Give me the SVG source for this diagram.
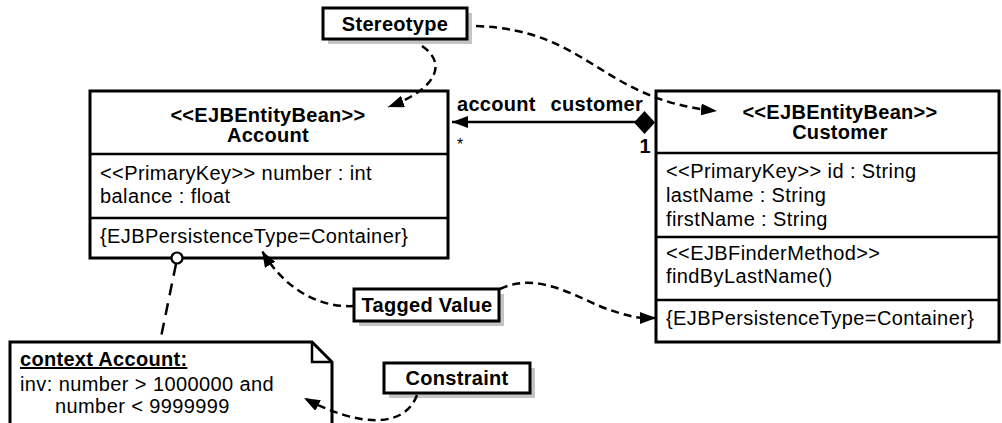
<svg xmlns="http://www.w3.org/2000/svg" width="1002" height="423" viewBox="0 0 1002 423">
  <style>
    text { font-family: "Liberation Sans", Arial, Helvetica, sans-serif; font-size: 20px; fill: #000; letter-spacing: 0.4px; }
    .b { font-weight: bold; letter-spacing: 0.3px; }
    .box { fill: #fff; stroke: #000; stroke-width: 3; }
    .div { stroke: #000; stroke-width: 2.5; fill: none; }
    .shadow { fill: #c4c4c4; }
    .dash { fill: none; stroke: #000; stroke-width: 2.5; stroke-dasharray: 8 5; }
    .solid { fill: none; stroke: #000; stroke-width: 2.5; }
  </style>
  <defs>
    <marker id="ah" viewBox="0 0 16 12" refX="16" refY="6" markerWidth="16" markerHeight="12" markerUnits="userSpaceOnUse" orient="auto">
      <path d="M0,0 L16,6 L0,12 z" fill="#000"/>
    </marker>
  </defs>

  <!-- Account class -->
  <g id="account">
    <rect class="box" x="90" y="91" width="358" height="167"/>
    <line class="div" x1="90" y1="154" x2="448" y2="154"/>
    <line class="div" x1="90" y1="218" x2="448" y2="218"/>
    <text class="b" x="268" y="122" text-anchor="middle">&lt;&lt;EJBEntityBean&gt;&gt;</text>
    <text class="b" x="268" y="142" text-anchor="middle">Account</text>
    <text x="100" y="180">&lt;&lt;PrimaryKey&gt;&gt; number : int</text>
    <text x="100" y="203">balance : float</text>
    <text x="100" y="243">{EJBPersistenceType=Container}</text>
  </g>

  <!-- Customer class -->
  <g id="customer">
    <rect class="box" x="656" y="91" width="343" height="251"/>
    <line class="div" x1="656" y1="153" x2="999" y2="153"/>
    <line class="div" x1="656" y1="237" x2="999" y2="237"/>
    <line class="div" x1="656" y1="300" x2="999" y2="300"/>
    <text class="b" x="840" y="119" text-anchor="middle">&lt;&lt;EJBEntityBean&gt;&gt;</text>
    <text class="b" x="840" y="139" text-anchor="middle">Customer</text>
    <text x="666" y="178">&lt;&lt;PrimaryKey&gt;&gt; id : String</text>
    <text x="666" y="202">lastName : String</text>
    <text x="666" y="226">firstName : String</text>
    <text x="666" y="260">&lt;&lt;EJBFinderMethod&gt;&gt;</text>
    <text x="666" y="283">findByLastName()</text>
    <text x="666" y="325">{EJBPersistenceType=Container}</text>
  </g>

  <!-- OCL constraint note -->
  <g id="note">
    <path class="box" d="M10,342 L312,342 L332,362 L332,430 L10,430 Z"/>
    <path class="div" d="M312,342 L312,362 L332,362"/>
    <text class="b" x="20" y="366" text-decoration="underline">context Account:</text>
    <text x="20" y="391">inv: number &gt; 1000000 and</text>
    <text x="55" y="413">number &lt; 9999999</text>
  </g>

  <!-- Callout labels -->
  <g id="stereotype">
    <rect class="shadow" x="328" y="13" width="144" height="31"/>
    <rect class="box" x="323" y="8" width="144" height="31"/>
    <text class="b" x="395" y="31" text-anchor="middle">Stereotype</text>
  </g>
  <g id="tagged-value">
    <rect class="shadow" x="359" y="294" width="145" height="32"/>
    <rect class="box" x="354" y="289" width="145" height="32"/>
    <text class="b" x="427" y="312" text-anchor="middle">Tagged Value</text>
  </g>
  <g id="constraint">
    <rect class="shadow" x="389" y="368" width="146" height="30"/>
    <rect class="box" x="384" y="363" width="146" height="30"/>
    <text class="b" x="457" y="385" text-anchor="middle">Constraint</text>
  </g>

  <!-- Connectors -->
  <g id="connectors">
    <!-- composition Customer -> Account -->
    <line class="solid" x1="636" y1="122" x2="452" y2="122" marker-end="url(#ah)"/>
    <path d="M655,122.5 L644.5,111 L634,122.5 L644.5,134 Z" fill="#000"/>
    <text class="b" x="457" y="111">account</text>
    <text class="b" x="643" y="111" text-anchor="end">customer</text>
    <text x="457" y="150" style="font-size:16px">*</text>
    <text class="b" x="651" y="153" text-anchor="end">1</text>

    <!-- stereotype pointers -->
    <path class="dash" d="M422,46 C446,62 440,88 388,107" marker-end="url(#ah)"/>
    <path class="dash" d="M476,26 C590,30 600,100 717,111" marker-end="url(#ah)"/>

    <!-- tagged value pointers -->
    <path class="dash" d="M354,306 C320,308 285,290 262,251" marker-end="url(#ah)"/>
    <path class="dash" d="M500,289 C540,270 580,300 610,310 S645,318 656,318" marker-end="url(#ah)"/>

    <!-- constraint pointer -->
    <path class="dash" d="M417,395 C405,428 360,428 304,398" marker-end="url(#ah)"/>

    <!-- note anchor -->
    <line x1="176" y1="264" x2="160" y2="342" stroke="#000" stroke-width="2.5" stroke-dasharray="12 8"/>
    <circle cx="177" cy="258" r="5.5" fill="#fff" stroke="#000" stroke-width="2.2"/>
  </g>
</svg>
